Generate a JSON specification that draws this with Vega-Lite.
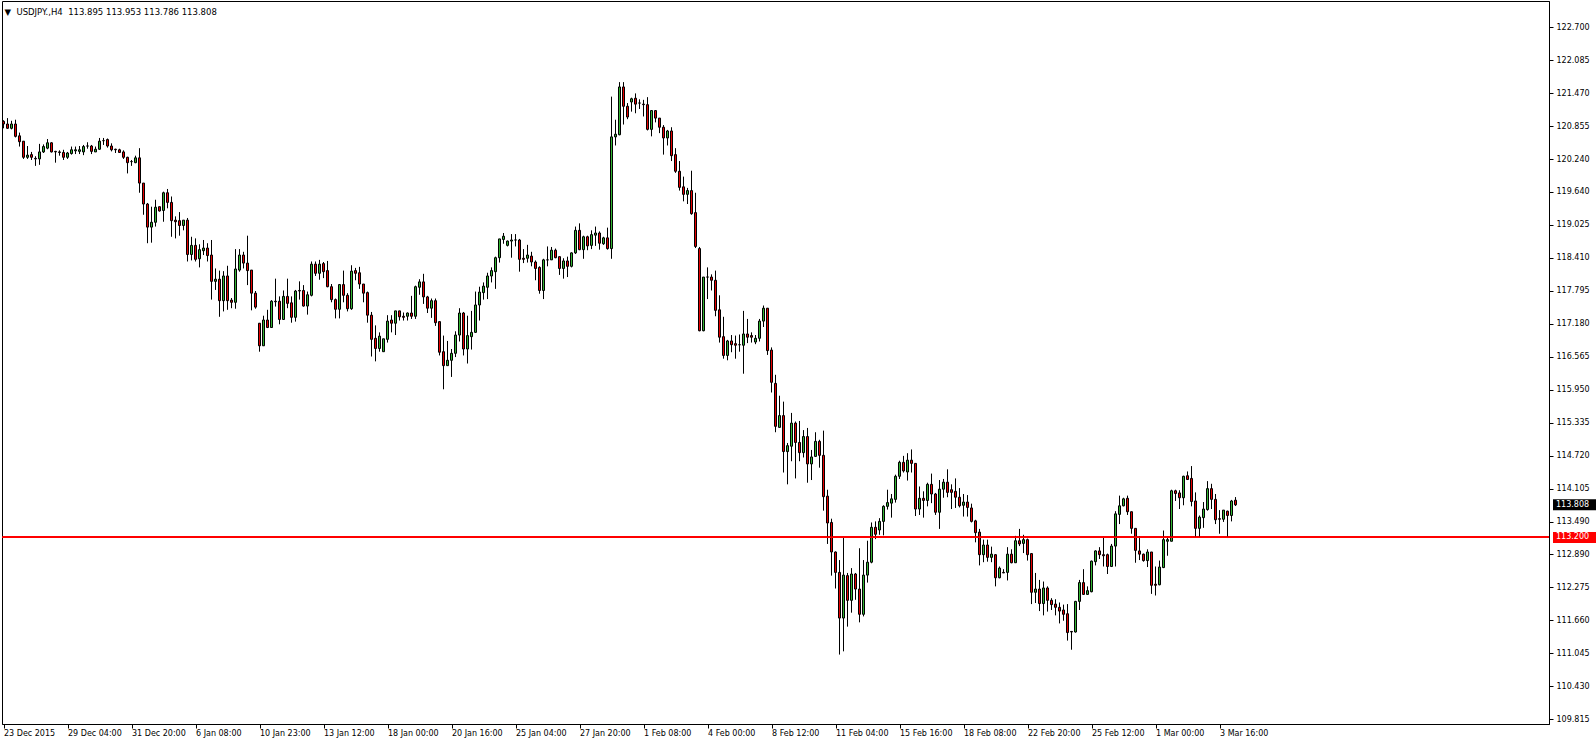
{
  "$schema": "https://vega.github.io/schema/vega-lite/v6.json",
  "width": 1547,
  "height": 723,
  "autosize": {"type": "none"},
  "padding": {"left": 2, "top": 1, "right": 47, "bottom": 20},
  "background": "white",
  "title": {"text": "▼\u00a0\u00a0USDJPY.,H4\u00a0\u00a0113.895 113.953 113.786 113.808", "anchor": "start", "offset": -15, "dx": 3, "font": "DejaVu Sans", "fontSize": 8.5, "fontWeight": "normal", "color": "black"},
  "config": {"view": {"stroke": "black", "strokeWidth": 1}, "axis": {"labelOverlap": false, "labelBound": false, "labelFlush": false, "grid": false, "tickCount": 100}},
  "data": {"values": [
{"i":0,"o":120.95,"h":120.97,"l":120.82,"c":120.90},
{"i":1,"o":120.90,"h":121.01,"l":120.81,"c":120.82},
{"i":2,"o":120.82,"h":120.96,"l":120.80,"c":120.90},
{"i":3,"o":120.90,"h":120.98,"l":120.65,"c":120.67},
{"i":4,"o":120.68,"h":120.74,"l":120.48,"c":120.57},
{"i":5,"o":120.58,"h":120.58,"l":120.25,"c":120.28},
{"i":6,"o":120.28,"h":120.49,"l":120.25,"c":120.32},
{"i":7,"o":120.33,"h":120.38,"l":120.23,"c":120.28},
{"i":8,"o":120.26,"h":120.30,"l":120.12,"c":120.25},
{"i":9,"o":120.25,"h":120.53,"l":120.14,"c":120.38},
{"i":10,"o":120.38,"h":120.52,"l":120.36,"c":120.48},
{"i":11,"o":120.45,"h":120.62,"l":120.43,"c":120.55},
{"i":12,"o":120.55,"h":120.56,"l":120.37,"c":120.38},
{"i":13,"o":120.39,"h":120.40,"l":120.18,"c":120.38},
{"i":14,"o":120.38,"h":120.41,"l":120.31,"c":120.37},
{"i":15,"o":120.37,"h":120.42,"l":120.23,"c":120.28},
{"i":16,"o":120.28,"h":120.38,"l":120.25,"c":120.36},
{"i":17,"o":120.35,"h":120.48,"l":120.33,"c":120.42},
{"i":18,"o":120.40,"h":120.48,"l":120.34,"c":120.42},
{"i":19,"o":120.39,"h":120.49,"l":120.34,"c":120.42},
{"i":20,"o":120.38,"h":120.51,"l":120.32,"c":120.48},
{"i":21,"o":120.49,"h":120.56,"l":120.44,"c":120.49},
{"i":22,"o":120.49,"h":120.51,"l":120.34,"c":120.39},
{"i":23,"o":120.38,"h":120.48,"l":120.38,"c":120.43},
{"i":24,"o":120.43,"h":120.64,"l":120.42,"c":120.58},
{"i":25,"o":120.59,"h":120.64,"l":120.51,"c":120.59},
{"i":26,"o":120.61,"h":120.63,"l":120.46,"c":120.49},
{"i":27,"o":120.49,"h":120.54,"l":120.39,"c":120.42},
{"i":28,"o":120.43,"h":120.44,"l":120.36,"c":120.42},
{"i":29,"o":120.42,"h":120.44,"l":120.36,"c":120.37},
{"i":30,"o":120.38,"h":120.41,"l":120.25,"c":120.28},
{"i":31,"o":120.28,"h":120.29,"l":119.98,"c":120.18},
{"i":32,"o":120.20,"h":120.23,"l":120.12,"c":120.20},
{"i":33,"o":120.18,"h":120.31,"l":120.17,"c":120.27},
{"i":34,"o":120.27,"h":120.45,"l":119.62,"c":119.80},
{"i":35,"o":119.80,"h":119.80,"l":119.21,"c":119.41},
{"i":36,"o":119.41,"h":119.43,"l":118.68,"c":118.98},
{"i":37,"o":118.98,"h":119.36,"l":118.69,"c":119.07},
{"i":38,"o":119.07,"h":119.49,"l":118.99,"c":119.35},
{"i":39,"o":119.36,"h":119.36,"l":119.27,"c":119.28},
{"i":40,"o":119.29,"h":119.64,"l":119.08,"c":119.62},
{"i":41,"o":119.62,"h":119.69,"l":119.33,"c":119.44},
{"i":42,"o":119.44,"h":119.55,"l":118.80,"c":119.10},
{"i":43,"o":119.11,"h":119.18,"l":118.77,"c":119.08},
{"i":44,"o":119.10,"h":119.26,"l":118.82,"c":119.01},
{"i":45,"o":119.01,"h":119.11,"l":118.92,"c":119.11},
{"i":46,"o":119.11,"h":119.15,"l":118.34,"c":118.47},
{"i":47,"o":118.47,"h":118.80,"l":118.36,"c":118.64},
{"i":48,"o":118.64,"h":118.77,"l":118.34,"c":118.38},
{"i":49,"o":118.39,"h":118.66,"l":118.23,"c":118.56},
{"i":50,"o":118.54,"h":118.74,"l":118.46,"c":118.59},
{"i":51,"o":118.59,"h":118.68,"l":118.34,"c":118.45},
{"i":52,"o":118.46,"h":118.74,"l":117.63,"c":117.97},
{"i":53,"o":117.97,"h":118.21,"l":117.81,"c":118.01},
{"i":54,"o":118.01,"h":118.17,"l":117.31,"c":117.61},
{"i":55,"o":117.61,"h":118.16,"l":117.41,"c":118.07},
{"i":56,"o":118.07,"h":118.26,"l":117.44,"c":117.61},
{"i":57,"o":117.62,"h":117.66,"l":117.47,"c":117.58},
{"i":58,"o":117.58,"h":118.57,"l":117.46,"c":118.20},
{"i":59,"o":118.18,"h":118.57,"l":118.15,"c":118.46},
{"i":60,"o":118.46,"h":118.52,"l":118.21,"c":118.31},
{"i":61,"o":118.31,"h":118.82,"l":117.90,"c":118.17},
{"i":62,"o":118.18,"h":118.18,"l":117.43,"c":117.75},
{"i":63,"o":117.75,"h":117.79,"l":117.46,"c":117.49},
{"i":64,"o":117.19,"h":117.19,"l":116.66,"c":116.77},
{"i":65,"o":116.77,"h":117.33,"l":116.77,"c":117.25},
{"i":66,"o":117.25,"h":117.44,"l":117.10,"c":117.11},
{"i":67,"o":117.11,"h":117.62,"l":117.11,"c":117.60},
{"i":68,"o":117.60,"h":118.02,"l":117.50,"c":117.59},
{"i":69,"o":117.60,"h":117.69,"l":117.17,"c":117.26},
{"i":70,"o":117.26,"h":117.80,"l":117.25,"c":117.69},
{"i":71,"o":117.69,"h":118.02,"l":117.47,"c":117.56},
{"i":72,"o":117.57,"h":117.69,"l":117.20,"c":117.30},
{"i":73,"o":117.30,"h":117.81,"l":117.22,"c":117.79},
{"i":74,"o":117.80,"h":117.97,"l":117.63,"c":117.79},
{"i":75,"o":117.80,"h":117.90,"l":117.50,"c":117.51},
{"i":76,"o":117.51,"h":117.78,"l":117.35,"c":117.72},
{"i":77,"o":117.71,"h":118.34,"l":117.69,"c":118.29},
{"i":78,"o":118.29,"h":118.34,"l":118.07,"c":118.12},
{"i":79,"o":118.12,"h":118.37,"l":118.00,"c":118.29},
{"i":80,"o":118.30,"h":118.33,"l":118.03,"c":118.15},
{"i":81,"o":118.17,"h":118.35,"l":117.86,"c":117.87},
{"i":82,"o":117.87,"h":117.92,"l":117.58,"c":117.63},
{"i":83,"o":117.63,"h":117.65,"l":117.28,"c":117.45},
{"i":84,"o":117.45,"h":117.92,"l":117.28,"c":117.91},
{"i":85,"o":117.91,"h":118.17,"l":117.58,"c":117.71},
{"i":86,"o":117.71,"h":117.75,"l":117.41,"c":117.46},
{"i":87,"o":117.46,"h":118.27,"l":117.44,"c":118.16},
{"i":88,"o":118.17,"h":118.22,"l":117.99,"c":118.12},
{"i":89,"o":118.13,"h":118.24,"l":117.83,"c":117.92},
{"i":90,"o":117.92,"h":117.92,"l":117.58,"c":117.75},
{"i":91,"o":117.76,"h":117.78,"l":117.20,"c":117.34},
{"i":92,"o":117.34,"h":117.40,"l":116.57,"c":116.89},
{"i":93,"o":116.91,"h":117.15,"l":116.48,"c":116.72},
{"i":94,"o":116.72,"h":117.02,"l":116.66,"c":116.95},
{"i":95,"o":116.66,"h":116.90,"l":116.66,"c":116.90},
{"i":96,"o":116.89,"h":117.34,"l":116.83,"c":117.23},
{"i":97,"o":117.25,"h":117.34,"l":117.02,"c":117.19},
{"i":98,"o":117.19,"h":117.42,"l":116.97,"c":117.42},
{"i":99,"o":117.42,"h":117.42,"l":117.24,"c":117.31},
{"i":100,"o":117.32,"h":117.39,"l":117.24,"c":117.30},
{"i":101,"o":117.32,"h":117.39,"l":117.24,"c":117.38},
{"i":102,"o":117.38,"h":117.70,"l":117.27,"c":117.32},
{"i":103,"o":117.32,"h":117.89,"l":117.27,"c":117.87},
{"i":104,"o":117.86,"h":118.01,"l":117.72,"c":117.96},
{"i":105,"o":117.96,"h":118.11,"l":117.55,"c":117.68},
{"i":106,"o":117.68,"h":117.70,"l":117.38,"c":117.47},
{"i":107,"o":117.47,"h":117.65,"l":117.29,"c":117.61},
{"i":108,"o":117.61,"h":117.65,"l":117.14,"c":117.20},
{"i":109,"o":117.22,"h":117.22,"l":116.59,"c":116.65},
{"i":110,"o":116.66,"h":116.96,"l":115.96,"c":116.40},
{"i":111,"o":116.40,"h":116.86,"l":116.40,"c":116.50},
{"i":112,"o":116.50,"h":116.71,"l":116.19,"c":116.63},
{"i":113,"o":116.63,"h":117.04,"l":116.56,"c":116.97},
{"i":114,"o":116.97,"h":117.47,"l":116.85,"c":117.38},
{"i":115,"o":117.38,"h":117.40,"l":116.59,"c":116.71},
{"i":116,"o":116.71,"h":117.33,"l":116.44,"c":116.96},
{"i":117,"o":116.94,"h":117.42,"l":116.70,"c":117.02},
{"i":118,"o":117.02,"h":117.78,"l":117.01,"c":117.53},
{"i":119,"o":117.53,"h":117.87,"l":117.24,"c":117.77},
{"i":120,"o":117.76,"h":117.95,"l":117.63,"c":117.88},
{"i":121,"o":117.86,"h":118.13,"l":117.64,"c":118.07},
{"i":122,"o":118.07,"h":118.23,"l":117.95,"c":118.17},
{"i":123,"o":118.15,"h":118.43,"l":117.83,"c":118.41},
{"i":124,"o":118.41,"h":118.76,"l":118.32,"c":118.76},
{"i":125,"o":118.75,"h":118.87,"l":118.67,"c":118.81},
{"i":126,"o":118.64,"h":118.73,"l":118.62,"c":118.72},
{"i":127,"o":118.72,"h":118.85,"l":118.41,"c":118.74},
{"i":128,"o":118.74,"h":118.85,"l":118.62,"c":118.74},
{"i":129,"o":118.74,"h":118.76,"l":118.15,"c":118.38},
{"i":130,"o":118.40,"h":118.57,"l":118.31,"c":118.38},
{"i":131,"o":118.40,"h":118.65,"l":118.32,"c":118.46},
{"i":132,"o":118.44,"h":118.52,"l":118.25,"c":118.33},
{"i":133,"o":118.33,"h":118.36,"l":117.99,"c":118.21},
{"i":134,"o":118.23,"h":118.25,"l":117.74,"c":117.80},
{"i":135,"o":117.80,"h":118.39,"l":117.64,"c":118.37},
{"i":136,"o":118.37,"h":118.62,"l":118.25,"c":118.37},
{"i":137,"o":118.37,"h":118.61,"l":118.37,"c":118.55},
{"i":138,"o":118.55,"h":118.58,"l":118.40,"c":118.41},
{"i":139,"o":118.43,"h":118.43,"l":118.09,"c":118.21},
{"i":140,"o":118.21,"h":118.40,"l":118.02,"c":118.35},
{"i":141,"o":118.35,"h":118.43,"l":118.05,"c":118.25},
{"i":142,"o":118.25,"h":118.51,"l":118.23,"c":118.50},
{"i":143,"o":118.50,"h":118.99,"l":118.48,"c":118.92},
{"i":144,"o":118.92,"h":119.05,"l":118.55,"c":118.56},
{"i":145,"o":118.56,"h":118.82,"l":118.39,"c":118.80},
{"i":146,"o":118.80,"h":118.82,"l":118.55,"c":118.63},
{"i":147,"o":118.64,"h":118.92,"l":118.57,"c":118.84},
{"i":148,"o":118.83,"h":118.99,"l":118.63,"c":118.87},
{"i":149,"o":118.87,"h":118.90,"l":118.56,"c":118.68},
{"i":150,"o":118.67,"h":118.80,"l":118.65,"c":118.78},
{"i":151,"o":118.78,"h":118.97,"l":118.56,"c":118.58},
{"i":152,"o":118.58,"h":121.41,"l":118.39,"c":120.66},
{"i":153,"o":120.66,"h":120.98,"l":120.50,"c":120.71},
{"i":154,"o":120.70,"h":121.68,"l":120.69,"c":121.59},
{"i":155,"o":121.59,"h":121.68,"l":120.89,"c":121.23},
{"i":156,"o":121.23,"h":121.29,"l":120.99,"c":121.03},
{"i":157,"o":121.31,"h":121.39,"l":121.13,"c":121.37},
{"i":158,"o":121.38,"h":121.47,"l":121.10,"c":121.27},
{"i":159,"o":121.29,"h":121.36,"l":121.18,"c":121.29},
{"i":160,"o":121.27,"h":121.35,"l":121.04,"c":121.26},
{"i":161,"o":121.26,"h":121.40,"l":120.78,"c":120.80},
{"i":162,"o":120.80,"h":121.16,"l":120.67,"c":121.15},
{"i":163,"o":121.15,"h":121.16,"l":120.93,"c":121.01},
{"i":164,"o":121.01,"h":121.01,"l":120.73,"c":120.84},
{"i":165,"o":120.84,"h":120.88,"l":120.33,"c":120.64},
{"i":166,"o":120.64,"h":120.79,"l":120.50,"c":120.77},
{"i":167,"o":120.77,"h":120.84,"l":120.21,"c":120.31},
{"i":168,"o":120.33,"h":120.45,"l":119.99,"c":120.02},
{"i":169,"o":120.02,"h":120.21,"l":119.66,"c":119.72},
{"i":170,"o":119.73,"h":119.92,"l":119.46,"c":119.59},
{"i":171,"o":119.59,"h":119.71,"l":119.41,"c":119.66},
{"i":172,"o":119.66,"h":120.03,"l":119.21,"c":119.23},
{"i":173,"o":119.25,"h":119.62,"l":118.59,"c":118.62},
{"i":174,"o":118.58,"h":118.61,"l":117.04,"c":117.05},
{"i":175,"o":117.05,"h":118.05,"l":117.04,"c":118.05},
{"i":176,"o":118.05,"h":118.23,"l":117.64,"c":118.05},
{"i":177,"o":118.05,"h":118.10,"l":117.80,"c":117.99},
{"i":178,"o":117.99,"h":118.17,"l":117.32,"c":117.43},
{"i":179,"o":117.44,"h":117.71,"l":116.83,"c":116.93},
{"i":180,"o":116.94,"h":117.31,"l":116.53,"c":116.59},
{"i":181,"o":116.59,"h":116.88,"l":116.50,"c":116.86},
{"i":182,"o":116.86,"h":116.97,"l":116.65,"c":116.79},
{"i":183,"o":116.81,"h":116.96,"l":116.53,"c":116.78},
{"i":184,"o":116.79,"h":116.98,"l":116.66,"c":116.79},
{"i":185,"o":116.78,"h":117.42,"l":116.25,"c":116.99},
{"i":186,"o":116.99,"h":117.27,"l":116.82,"c":116.93},
{"i":187,"o":116.96,"h":117.02,"l":116.83,"c":116.93},
{"i":188,"o":116.84,"h":116.97,"l":116.80,"c":116.91},
{"i":189,"o":116.91,"h":117.27,"l":116.85,"c":117.23},
{"i":190,"o":117.23,"h":117.52,"l":117.12,"c":117.47},
{"i":191,"o":117.47,"h":117.47,"l":116.60,"c":116.68},
{"i":192,"o":116.69,"h":116.74,"l":115.90,"c":116.09},
{"i":193,"o":116.07,"h":116.23,"l":115.16,"c":115.27},
{"i":194,"o":115.25,"h":115.84,"l":115.25,"c":115.47},
{"i":195,"o":115.47,"h":115.73,"l":114.41,"c":114.80},
{"i":196,"o":114.80,"h":114.96,"l":114.19,"c":114.91},
{"i":197,"o":114.90,"h":115.52,"l":114.62,"c":115.33},
{"i":198,"o":115.33,"h":115.36,"l":114.30,"c":114.97},
{"i":199,"o":114.97,"h":115.37,"l":114.62,"c":114.78},
{"i":200,"o":114.78,"h":115.20,"l":114.69,"c":115.08},
{"i":201,"o":115.08,"h":115.24,"l":114.22,"c":114.57},
{"i":202,"o":114.57,"h":114.83,"l":114.27,"c":114.70},
{"i":203,"o":114.71,"h":115.16,"l":114.70,"c":114.99},
{"i":204,"o":114.99,"h":115.02,"l":114.50,"c":114.73},
{"i":205,"o":114.73,"h":115.19,"l":113.70,"c":113.96},
{"i":206,"o":113.97,"h":114.09,"l":113.08,"c":113.47},
{"i":207,"o":113.48,"h":113.55,"l":112.49,"c":112.93},
{"i":208,"o":112.93,"h":112.94,"l":112.25,"c":112.55},
{"i":209,"o":112.55,"h":112.78,"l":111.02,"c":111.70},
{"i":210,"o":111.70,"h":113.19,"l":111.08,"c":112.50},
{"i":211,"o":112.49,"h":112.54,"l":111.54,"c":112.03},
{"i":212,"o":112.03,"h":112.63,"l":111.80,"c":112.52},
{"i":213,"o":112.52,"h":112.54,"l":112.04,"c":112.24},
{"i":214,"o":112.24,"h":113.00,"l":111.62,"c":111.77},
{"i":215,"o":111.77,"h":112.78,"l":111.73,"c":112.50},
{"i":216,"o":112.50,"h":113.14,"l":112.36,"c":112.74},
{"i":217,"o":112.74,"h":113.48,"l":112.72,"c":113.39},
{"i":218,"o":113.39,"h":113.50,"l":113.17,"c":113.26},
{"i":219,"o":113.34,"h":113.56,"l":113.25,"c":113.50},
{"i":220,"o":113.50,"h":113.80,"l":113.24,"c":113.78},
{"i":221,"o":113.78,"h":114.09,"l":113.72,"c":113.85},
{"i":222,"o":113.84,"h":114.01,"l":113.57,"c":113.92},
{"i":223,"o":113.91,"h":114.37,"l":113.85,"c":114.34},
{"i":224,"o":114.34,"h":114.63,"l":114.29,"c":114.60},
{"i":225,"o":114.60,"h":114.72,"l":114.41,"c":114.44},
{"i":226,"o":114.42,"h":114.77,"l":114.26,"c":114.64},
{"i":227,"o":114.64,"h":114.84,"l":114.41,"c":114.58},
{"i":228,"o":114.58,"h":114.58,"l":113.60,"c":113.73},
{"i":229,"o":113.73,"h":114.15,"l":113.62,"c":113.93},
{"i":230,"o":113.93,"h":114.06,"l":113.57,"c":113.89},
{"i":231,"o":113.89,"h":114.22,"l":113.78,"c":114.19},
{"i":232,"o":114.19,"h":114.39,"l":113.84,"c":114.01},
{"i":233,"o":114.01,"h":114.03,"l":113.62,"c":113.67},
{"i":234,"o":113.67,"h":114.27,"l":113.36,"c":114.10},
{"i":235,"o":114.10,"h":114.29,"l":113.94,"c":114.23},
{"i":236,"o":114.23,"h":114.47,"l":113.95,"c":114.04},
{"i":237,"o":114.09,"h":114.19,"l":113.73,"c":114.04},
{"i":238,"o":114.06,"h":114.30,"l":113.75,"c":113.95},
{"i":239,"o":113.95,"h":114.12,"l":113.76,"c":113.79},
{"i":240,"o":113.80,"h":114.01,"l":113.59,"c":113.86},
{"i":241,"o":113.86,"h":113.99,"l":113.59,"c":113.76},
{"i":242,"o":113.75,"h":113.83,"l":113.48,"c":113.50},
{"i":243,"o":113.51,"h":113.53,"l":113.11,"c":113.29},
{"i":244,"o":113.30,"h":113.36,"l":112.68,"c":112.88},
{"i":245,"o":112.88,"h":113.16,"l":112.74,"c":113.06},
{"i":246,"o":113.06,"h":113.16,"l":112.75,"c":112.83},
{"i":247,"o":112.83,"h":113.03,"l":112.74,"c":112.89},
{"i":248,"o":112.88,"h":112.89,"l":112.29,"c":112.45},
{"i":249,"o":112.45,"h":112.66,"l":112.44,"c":112.63},
{"i":250,"o":112.55,"h":112.61,"l":112.54,"c":112.54},
{"i":251,"o":112.55,"h":113.02,"l":112.40,"c":112.89},
{"i":252,"o":112.89,"h":112.98,"l":112.72,"c":112.73},
{"i":253,"o":112.73,"h":113.23,"l":112.73,"c":113.14},
{"i":254,"o":113.14,"h":113.36,"l":113.04,"c":113.08},
{"i":255,"o":113.09,"h":113.25,"l":112.91,"c":113.16},
{"i":256,"o":113.16,"h":113.18,"l":112.77,"c":112.88},
{"i":257,"o":112.90,"h":112.91,"l":111.96,"c":112.18},
{"i":258,"o":112.18,"h":112.54,"l":111.98,"c":112.24},
{"i":259,"o":112.24,"h":112.41,"l":111.83,"c":111.97},
{"i":260,"o":111.97,"h":112.38,"l":111.75,"c":112.26},
{"i":261,"o":112.26,"h":112.29,"l":111.82,"c":112.03},
{"i":262,"o":112.03,"h":112.07,"l":111.85,"c":111.95},
{"i":263,"o":111.96,"h":112.05,"l":111.75,"c":111.90},
{"i":264,"o":111.90,"h":111.99,"l":111.60,"c":111.83},
{"i":265,"o":111.85,"h":111.95,"l":111.65,"c":111.77},
{"i":266,"o":111.78,"h":111.96,"l":111.28,"c":111.43},
{"i":267,"o":111.45,"h":111.46,"l":111.11,"c":111.44},
{"i":268,"o":111.44,"h":112.02,"l":111.43,"c":112.01},
{"i":269,"o":112.01,"h":112.41,"l":111.85,"c":112.36},
{"i":270,"o":112.36,"h":112.61,"l":112.13,"c":112.14},
{"i":271,"o":112.14,"h":112.29,"l":112.13,"c":112.21},
{"i":272,"o":112.19,"h":112.77,"l":112.18,"c":112.76},
{"i":273,"o":112.75,"h":112.96,"l":112.68,"c":112.95},
{"i":274,"o":112.95,"h":113.02,"l":112.80,"c":112.88},
{"i":275,"o":112.88,"h":113.21,"l":112.66,"c":112.86},
{"i":276,"o":112.88,"h":112.90,"l":112.52,"c":112.66},
{"i":277,"o":112.66,"h":113.08,"l":112.65,"c":113.04},
{"i":278,"o":113.04,"h":113.69,"l":112.66,"c":113.64},
{"i":279,"o":113.63,"h":113.98,"l":113.45,"c":113.79},
{"i":280,"o":113.79,"h":113.94,"l":113.78,"c":113.92},
{"i":281,"o":113.93,"h":113.98,"l":113.62,"c":113.68},
{"i":282,"o":113.68,"h":113.68,"l":113.27,"c":113.37},
{"i":283,"o":113.37,"h":113.37,"l":112.73,"c":112.96},
{"i":284,"o":112.95,"h":113.22,"l":112.78,"c":112.89},
{"i":285,"o":112.89,"h":112.90,"l":112.75,"c":112.77},
{"i":286,"o":112.77,"h":112.98,"l":112.65,"c":112.93},
{"i":287,"o":112.93,"h":112.93,"l":112.15,"c":112.31},
{"i":288,"o":112.33,"h":112.66,"l":112.12,"c":112.31},
{"i":289,"o":112.32,"h":112.77,"l":112.31,"c":112.65},
{"i":290,"o":112.64,"h":113.33,"l":112.63,"c":113.16},
{"i":291,"o":113.13,"h":113.21,"l":112.86,"c":113.16},
{"i":292,"o":113.13,"h":114.09,"l":113.13,"c":114.07},
{"i":293,"o":114.07,"h":114.09,"l":113.88,"c":114.02},
{"i":294,"o":114.03,"h":114.08,"l":113.73,"c":113.94},
{"i":295,"o":113.94,"h":114.35,"l":113.80,"c":114.34},
{"i":296,"o":114.35,"h":114.43,"l":114.27,"c":114.28},
{"i":297,"o":114.30,"h":114.53,"l":113.78,"c":113.87},
{"i":298,"o":113.88,"h":114.04,"l":113.20,"c":113.37},
{"i":299,"o":113.37,"h":113.61,"l":113.20,"c":113.58},
{"i":300,"o":113.57,"h":113.86,"l":113.38,"c":113.73},
{"i":301,"o":113.72,"h":114.25,"l":113.70,"c":114.11},
{"i":302,"o":114.11,"h":114.20,"l":113.73,"c":113.91},
{"i":303,"o":113.91,"h":114.01,"l":113.45,"c":113.53},
{"i":304,"o":113.55,"h":113.71,"l":113.27,"c":113.54},
{"i":305,"o":113.54,"h":113.71,"l":113.49,"c":113.71},
{"i":306,"o":113.69,"h":113.70,"l":113.19,"c":113.61},
{"i":307,"o":113.61,"h":113.90,"l":113.50,"c":113.88},
{"i":308,"o":113.895,"h":113.953,"l":113.786,"c":113.808}
  ]},
  "layer": [
    {
      "mark": {"type": "rule", "color": "black", "strokeWidth": 1},
      "encoding": {
        "x": {"field": "i", "type": "quantitative", "title": null,
          "scale": {"domain": [-0.375, 386.375], "nice": false, "zero": false, "padding": 0},
          "axis": {"values": [0,16,32,48,64,80,96,112,128,144,160,176,192,208,224,240,256,272,288,304],
            "labelExpr": "['23 Dec 2015','29 Dec 04:00','31 Dec 20:00','6 Jan 08:00','10 Jan 23:00','13 Jan 12:00','18 Jan 00:00','20 Jan 16:00','25 Jan 04:00','27 Jan 20:00','1 Feb 08:00','4 Feb 00:00','8 Feb 12:00','11 Feb 04:00','15 Feb 16:00','18 Feb 08:00','22 Feb 20:00','25 Feb 12:00','1 Mar 00:00','3 Mar 16:00'][round(datum.value / 16)]",
            "tickCount": 100, "grid": false, "domainColor": "black", "tickColor": "black", "tickSize": 4,
            "labelAlign": "left", "labelBaseline": "top", "labelPadding": 1, "labelOffset": 0,
            "labelFont": "DejaVu Sans", "labelFontSize": 8, "labelColor": "black",
            "labelOverlap": false, "labelFlush": false, "labelBound": false}},
        "y": {"field": "l", "type": "quantitative", "title": null,
          "scale": {"domain": [109.727, 123.1905], "nice": false, "zero": false, "padding": 0},
          "axis": {"orient": "right",
            "values": [122.7,122.085,121.47,120.855,120.24,119.64,119.025,118.41,117.795,117.18,116.565,115.95,115.335,114.72,114.105,113.49,112.89,112.275,111.66,111.045,110.43,109.815],
            "tickCount": 100, "format": ".3f", "grid": false, "domainColor": "black", "tickColor": "black", "tickSize": 4,
            "labelAlign": "left", "labelBaseline": "middle", "labelPadding": 3,
            "labelFont": "DejaVu Sans", "labelFontSize": 8, "labelColor": "black",
            "labelOverlap": false, "labelBound": false, "labelFlush": false}},
        "y2": {"field": "h"}
      }
    },
    {
      "mark": {"type": "bar", "orient": "vertical", "size": 2, "stroke": "black", "strokeWidth": 1},
      "encoding": {
        "x": {"field": "i", "type": "quantitative", "title": null},
        "y": {"field": "o", "type": "quantitative", "title": null},
        "y2": {"field": "c"},
        "fill": {"condition": {"test": "datum.c > datum.o", "value": "#32b432"}, "value": "#e60000"}
      }
    },
    {
      "mark": {"type": "rule", "color": "#ff0000", "strokeWidth": 1},
      "encoding": {"y": {"datum": 113.2, "type": "quantitative", "title": null}}
    },
    {
      "data": {"values": [
        {"price": 113.2, "label": "113.200", "kind": "line"},
        {"price": 113.808, "label": "113.808", "kind": "last"}
      ]},
      "layer": [
        {
          "mark": {"type": "bar", "orient": "horizontal", "size": 11, "clip": false},
          "encoding": {
            "y": {"field": "price", "type": "quantitative", "title": null},
            "x": {"datum": 387.375, "type": "quantitative", "title": null},
            "x2": {"datum": 399.5},
            "color": {"field": "kind", "type": "nominal", "legend": null,
              "scale": {"domain": ["line", "last"], "range": ["#ff0000", "#000000"]}}
          }
        },
        {
          "mark": {"type": "text", "align": "left", "baseline": "middle", "font": "DejaVu Sans", "fontSize": 8, "color": "white", "clip": false},
          "encoding": {
            "y": {"field": "price", "type": "quantitative", "title": null},
            "x": {"datum": 388.125, "type": "quantitative", "title": null},
            "text": {"field": "label"}
          }
        }
      ]
    }
  ]
}
